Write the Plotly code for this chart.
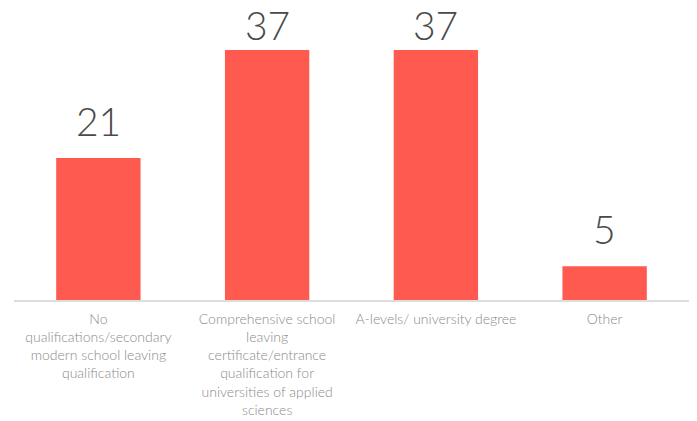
import plotly.graph_objects as go

categories = [
    "No<br>qualifications/secondary<br>modern school leaving<br>qualification",
    "Comprehensive school<br>leaving<br>certificate/entrance<br>qualification for<br>universities of applied<br>sciences",
    "A-levels/ university degree",
    "Other",
]
values = [21, 37, 37, 5]

BAR_COLOR = "#FF5A4F"
VALUE_COLOR = "#4a4a4a"
LABEL_COLOR = "#8a8a8a"
FONT = "Lato"

Y_MAX = 42.92
TOP_MARGIN = 10
PLOT_H = 421 - TOP_MARGIN - 121
LABEL_GAP = 12      # preferred lift of value labels above their bar (px)
LABEL_BOX = 50      # approximate height of a value-label box (px)

fig = go.Figure(
    go.Bar(
        x=categories,
        y=values,
        marker=dict(color=BAR_COLOR, line=dict(width=0)),
        width=0.5,
        hoverinfo="skip",
    )
)

# value labels above each bar, pulled down when they would run off the top
for cat, val in zip(categories, values):
    room = (Y_MAX - val) / Y_MAX * PLOT_H + TOP_MARGIN - LABEL_BOX
    fig.add_annotation(
        x=cat,
        y=val,
        text=str(val),
        showarrow=False,
        yanchor="bottom",
        yshift=max(0, min(LABEL_GAP, room)),
        font=dict(family=FONT, size=39, color=VALUE_COLOR, weight=300),
    )

fig.update_layout(
    width=697,
    height=421,
    margin=dict(l=14, r=8, t=TOP_MARGIN, b=121),
    paper_bgcolor="white",
    plot_bgcolor="white",
    showlegend=False,
    font=dict(family=FONT),
)
fig.update_xaxes(
    showline=True,
    linecolor="#dddddd",
    linewidth=2,
    showgrid=False,
    ticks="",
    tickfont=dict(family=FONT, size=14, color=LABEL_COLOR, weight=300),
    tickangle=0,
    ticklabelstandoff=5,
    automargin=False,
)
fig.update_yaxes(
    range=[0, Y_MAX],
    visible=False,
    showgrid=False,
    zeroline=False,
)

fig.write_html("out.html")
